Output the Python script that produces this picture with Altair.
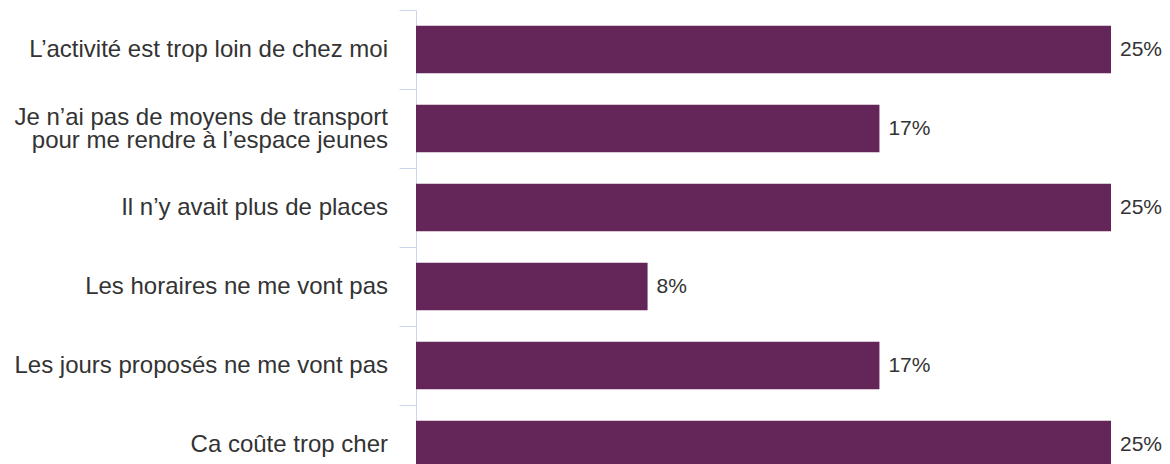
import altair as alt
import pandas as pd

categories = [
    "L’activité est trop loin de chez moi",
    "Je n’ai pas de moyens de transport\npour me rendre à l’espace jeunes",
    "Il n’y avait plus de places",
    "Les horaires ne me vont pas",
    "Les jours proposés ne me vont pas",
    "Ca coûte trop cher",
]
values = [25.0, 16.67, 25.0, 8.33, 16.67, 25.0]
labels = ["25%", "17%", "25%", "8%", "17%", "25%"]

df = pd.DataFrame({"cat": categories, "val": values, "lab": labels})

FONT = "Liberation Sans"

y_enc = alt.Y(
    "cat:N",
    sort=categories,
    title=None,
    scale=alt.Scale(paddingInner=0, paddingOuter=0),
    axis=alt.Axis(
        domainColor="#ccd6eb",
        tickColor="#ccd6eb",
        tickSize=17,
        tickBand="extent",
        labels=False,
    ),
)

x_enc = alt.X(
    "val:Q",
    title=None,
    scale=alt.Scale(domain=[0, 25], nice=False),
    axis=None,
)

bars = alt.Chart(df).mark_bar(
    color="#642558", height=alt.RelativeBandSize(0.6)
).encode(x=x_enc, y=y_enc)

values_text = alt.Chart(df).mark_text(
    align="left", baseline="middle", dx=9, font=FONT, fontSize=21, color="#333333"
).encode(x=x_enc, y=y_enc, text="lab:N")

single_text = (
    alt.Chart(df)
    .transform_filter("indexof(datum.cat, '\\n') < 0")
    .mark_text(align="right", baseline="middle", font=FONT, fontSize=24, color="#333333")
    .encode(x=alt.value(-28), y=y_enc, text="cat:N")
)

multi_text = (
    alt.Chart(df)
    .transform_filter("indexof(datum.cat, '\\n') >= 0")
    .mark_text(
        align="right",
        baseline="middle",
        font=FONT,
        fontSize=24,
        color="#333333",
        lineBreak="\n",
        lineHeight=23,
        dy=-11,
    )
    .encode(x=alt.value(-28), y=y_enc, text="cat:N")
)

chart = (
    alt.layer(bars, values_text, single_text, multi_text)
    .properties(
        width=695,
        height=474,
        autosize=alt.AutoSizeParams(type="none"),
        padding={"left": 408, "top": 2, "right": 51, "bottom": 0},
    )
    .configure_view(stroke=None)
)

chart.save("out.html", embed_options={"renderer": "svg", "actions": False})
